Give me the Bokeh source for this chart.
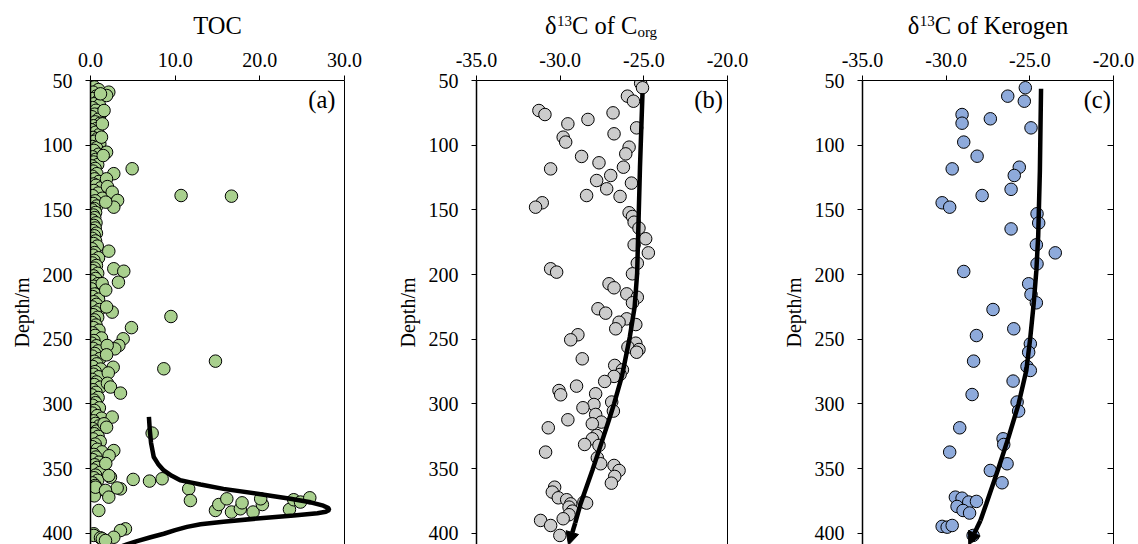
from bokeh.plotting import figure
from bokeh.layouts import row, column
from bokeh.models import (Range1d, LinearAxis, FixedTicker, NumeralTickFormatter,
                          Label, Arrow, NormalHead)
from bokeh.core.properties import value
from bokeh.embed import file_html
from bokeh.resources import INLINE

FONT = "Liberation Serif"
TICK_PX = "20px"
TITLE_PX = "24.5px"
SMALL_PX = "15px"

# ---------------- data ----------------
depth_ticks = [50, 100, 150, 200, 250, 300, 350, 400]
toc_ticks = [0, 10, 20, 30]
d13c_ticks = [-35, -30, -25, -20]

# (a) TOC (wt%) vs depth (m)
toc_depth = [55, 57, 59, 61, 62, 64, 66, 68, 69, 71, 73, 75, 76, 78, 80, 82, 83, 85, 87, 88,
             90, 92, 94, 95, 97, 99, 101, 102, 104, 107, 109, 111, 113, 115, 116, 118, 120, 122,
             124, 126, 128, 130, 131, 133, 135, 137, 139, 141, 143, 145, 147, 149, 150, 152, 154,
             156, 158, 160, 162, 164, 166, 168, 170, 172, 174, 176, 178, 180, 183, 185, 187, 189,
             191, 193, 195, 197, 199, 201, 203, 205, 207, 209, 211, 213, 215, 217, 219, 221, 223,
             225, 227, 229, 231, 233, 235, 237, 239, 241, 243, 245, 247, 249, 251, 253, 255, 257,
             259, 261, 263, 265, 267, 269, 271, 273, 275, 277, 279, 281, 283, 285, 287, 289, 291,
             293, 295, 297, 299, 301, 303, 305, 307, 309, 311, 313, 315, 317, 319, 321, 323, 325,
             327, 329, 331, 333, 335, 337, 339, 341, 343, 345, 347, 349, 351, 353, 355, 357, 359,
             361, 363, 365, 368, 371,
             59, 61.6, 60.3, 73.2, 83.5, 93.8, 106, 105.4, 108, 122, 126, 132, 136.3, 142.7, 147.9,
             144, 181.9, 195.5, 197.4, 205.9, 207, 212, 229, 225, 241, 249.6, 254.8, 257.4, 254.8,
             262, 271.6, 276, 284, 286.9, 291.6, 310.1, 315.3, 318, 336, 340, 346, 356.6, 355.3,
             364.3, 365.6, 364.9, 366.8, 372, 382.3, 396.5, 397.8, 400.3, 401.6, 403, 403.4, 404.2,
             405.5,
             118.2, 138.9, 139.4, 232.4, 266.9, 272.8, 322.5, 358.3, 359.6, 357.8, 365.6, 374.6,
             382.3, 377.7, 373.3, 383.5, 381, 376.4, 383.5, 377.7, 373.3, 381.5, 374, 375.8, 372.5]
toc_value = [0.45, 0.95, 0.30, 1.25, 0.70, 0.20, 0.85, 0.40, 1.05, 0.25, 0.65, 1.30, 0.50, 0.15,
             0.90, 0.55, 1.15, 0.35, 0.75, 0.05, 0.60, 1.00, 0.30, 0.80, 0.45, 1.10, 0.20, 0.70,
             0.40, 0.95, 0.25, 0.60, 0.35, 0.85, 0.15, 0.55, 0.30, 0.75, 0.20, 0.50, 1.00, 0.35,
             0.65, 1.20, 0.40, 0.90, 0.25, 1.40, 0.55, 0.30, 0.75, 0.45, 0.20, 0.60, 0.35, 0.50,
             0.25, 0.65, 0.40, 0.55, 0.30, 0.70, 0.45, 0.20, 0.60, 0.35, 0.80, 0.15, 0.50, 0.30,
             0.95, 0.40, 0.20, 0.70, 0.45, 0.25, 0.85, 0.35, 0.60, 0.15, 0.90, 0.40, 0.10, 1.20,
             0.50, 0.25, 0.95, 0.40, 0.70, 0.20, 1.05, 0.55, 0.30, 0.85, 0.45, 0.20, 0.65, 0.35,
             1.00, 0.25, 0.55, 1.30, 0.40, 0.15, 0.70, 0.30, 0.90, 0.50, 0.20, 1.10, 0.45, 0.75,
             0.25, 1.20, 0.55, 0.35, 0.95, 0.20, 0.70, 0.45, 1.15, 0.30, 0.65, 0.15, 0.90, 0.40,
             0.60, 0.25, 1.05, 0.45, 0.20, 0.80, 1.30, 0.35, 0.60, 1.00, 0.25, 0.70, 0.45, 0.90,
             0.30, 1.15, 0.55, 0.20, 0.80, 1.35, 0.40, 0.65, 0.25, 1.00, 0.50, 0.80, 0.35, 1.10,
             0.60, 0.40, 0.85, 0.25, 0.55, 0.15, 0.70, 0.45,
             2.16, 1.90, 1.18, 1.60, 1.40, 1.30, 1.77, 1.90, 1.50, 2.75, 1.89, 2.00, 2.56, 3.20,
             2.75, 1.80, 2.16, 2.75, 3.93, 3.30, 1.38, 1.80, 2.56, 1.90, 4.84, 3.86, 3.35, 2.87,
             1.97, 1.90, 2.68, 2.10, 2.00, 2.36, 3.54, 2.56, 1.60, 1.90, 2.75, 2.20, 1.80, 2.36,
             2.16, 0.59, 3.54, 3.15, 1.77, 2.16, 0.98, 4.13, 3.54, 0.39, 0.39, 2.75, 1.18, 1.40,
             1.77,
             4.92, 10.7, 16.65, 9.5, 14.76, 8.66, 7.28, 5.04, 6.97, 8.46, 11.6, 11.8,
             14.76, 15.15, 16.1, 16.65, 17.7, 17.9, 19.2, 20.3, 20.1, 23.5, 24.0, 24.8, 25.9]

toc_curve_value = [6.9, 7.0, 7.15, 7.47, 8.0, 8.66, 9.6, 10.6, 11.8, 13.0, 15.7, 19.7, 23.6, 26.0,
                   27.5, 28.1, 28.2, 27.8, 26.8, 24.0, 19.7, 15.7, 13.0, 11.4, 10.0, 8.66, 7.1,
                   5.5, 4.3, 3.0]
toc_curve_depth = [310, 320, 330, 341, 346.5, 351.4, 355.5, 359, 360.6, 362.2, 365.6, 369.4, 373.3,
                   376.0, 378.6, 380.5, 382.0, 383.3, 384.4, 386.2, 388.5, 391.0, 393.0, 395.0,
                   397.5, 400.3, 403.0, 406.0, 408.6, 411.5]

# (b) d13C of Corg (permil) vs depth
corg_depth = [52.1, 55.6, 62.1, 66, 73.2, 76.3, 75, 80.1, 83.5, 86.6, 91.2, 93.8, 97.6, 101.5,
              106.7, 108.7, 113.6, 117, 118.3, 123.4, 129.3, 127.3, 133.7, 138.9, 139.6, 144.5,
              147.9, 152.2, 155.1, 159.5, 164.1, 172.3, 177, 183.2, 191.2, 195.5, 198.1, 199.4,
              207.1, 210.2, 214.9, 217.5, 221.8, 226.4, 229.8, 234.2, 236.8, 238.6, 241.9, 246.5,
              250.4, 253, 256, 257.9, 260, 265.1, 270.2, 273.6, 277.2, 278.7, 282.6, 286.2, 289.6,
              292.9, 292.1, 300.4, 298.5, 305.5, 302.9, 308.1, 314, 315.3, 312.2, 318.4, 324.3,
              326.9, 332, 331.3, 337.2, 341.6, 346.2, 347.5, 351.4, 356, 361.2, 364.3, 368.1,
              372.5, 374, 377.2, 375.8, 376.6, 379.7, 382.8, 385.6, 388.7, 390, 393.9, 401.6]
corg_value = [-25.19, -25.08, -25.98, -25.62, -31.27, -30.91, -26.84, -28.34, -29.54, -25.43,
              -26.78, -29.82, -29.67, -25.88, -26.08, -28.72, -27.68, -26.22, -30.57, -26.98,
              -25.74, -27.82, -27.22, -28.42, -26.42, -31.07, -31.47, -25.88, -25.68, -25.58,
              -25.29, -24.89, -25.58, -24.73, -25.39, -30.57, -30.21, -25.68,
              -27.08, -26.78, -26.02, -25.39, -25.68, -27.74, -27.28, -26.02, -26.48, -25.48,
              -26.68, -28.94, -29.37, -25.48, -25.95, -25.29, -25.43, -28.68, -26.74, -26.28,
              -26.42, -26.78, -27.34, -29.02, -30.07, -29.97, -27.88, -27.98, -26.92, -26.82,
              -28.64, -27.88, -27.54, -28.08, -29.54, -30.71, -27.82, -28.08, -27.68, -28.54,
              -30.87, -27.78, -27.58, -26.78, -26.48, -26.74, -26.94, -30.33, -30.47, -30.11,
              -29.61, -29.37, -28.58, -28.42, -29.47, -29.27, -29.47, -29.82, -31.17, -30.57,
              -30.02]
corg_trend_value = [-25.08, -25.23, -25.40, -25.55, -25.84, -26.30, -26.78, -27.10, -27.42, -28.08,
                    -28.78, -29.10]
corg_trend_depth = [59.8, 117, 199, 225, 248.4, 278, 299.9, 313, 325.6, 351.4, 377.1, 392]

# (c) d13C of kerogen (permil) vs depth
ker_depth = [55.6, 62.1, 66, 76.3, 83, 79.6, 86.6, 97.6, 108.5, 118.3, 117, 123.4, 134.1, 138.9,
             144.5, 147.9, 153, 160.1, 164.7, 177, 183.2, 191.7, 197.6, 207.1, 215.3, 221.8, 227,
             241.9, 247.1, 253.5, 260, 266.9, 271, 274.1, 282.3, 292.7, 298.5, 305.5, 318.4, 326.9,
             331.3, 337.2, 346.2, 351.4, 360.9, 372, 372.8, 375.8, 375.3, 379.2, 382.3, 384.3,
             394.6, 395.2, 393.9, 401.6]
ker_value = [-25.27, -26.32, -25.33, -29.05, -29.05, -27.36, -24.93, -28.95, -28.15, -29.64,
             -25.63, -25.93, -26.12, -27.85, -30.24, -29.79, -24.57, -24.47, -26.12, -24.61,
             -23.48, -24.57, -28.95, -25.07, -24.93, -24.61, -27.2, -25.96, -28.19, -24.97,
             -25.07, -28.36, -25.17, -24.97, -26.0, -28.45, -25.76, -25.67, -29.19, -26.6,
             -26.56, -29.79, -26.36, -27.36, -26.66, -29.45, -29.05, -28.65, -28.19, -29.35,
             -28.99, -28.6, -30.24, -29.94, -29.64, -28.39]
ker_trend_value = [-24.33, -24.40, -24.50, -24.61, -24.77, -24.97, -25.21, -25.67, -26.27, -26.92,
                   -27.60, -27.95]
ker_trend_depth = [56.4, 120, 170, 196.8, 222.6, 248.4, 274.1, 299.9, 325.6, 351.4, 377.1, 390]

# ---------------- layout ----------------
STRIP_H = 44
PANEL_H = 500
D_TOP, D_BOTTOM = 50, 408.6
MAIN_Y, SUP_Y, SUB_Y = 18.8, 23.4, 12.3   # vertical middles of the title pieces
TAG_Y = 64.5


def strip(width, bl, br, xr):
    s = figure(width=width, height=STRIP_H, x_range=xr, y_range=Range1d(0, STRIP_H),
               x_axis_type=None, y_axis_type=None, output_backend="svg",
               toolbar_location=None, min_border_left=bl, min_border_right=br,
               min_border_top=0, min_border_bottom=0)
    s.outline_line_color = None
    s.grid.visible = False
    return s


def piece(s, x, y, text, size, align="left", dx=0):
    s.text(x=[x], y=[y], text=[text], text_font=value(FONT), text_font_size=value(size),
           text_align=align, text_baseline="middle", text_color="black", x_offset=dx)


def panel(width, bl, br, xr, xticks, right_ticks):
    p = figure(width=width, height=PANEL_H, x_range=xr,
               y_range=Range1d(D_BOTTOM, D_TOP), x_axis_location="above",
               output_backend="svg", toolbar_location=None,
               min_border_left=bl, min_border_right=br, min_border_top=36,
               min_border_bottom=0)
    p.outline_line_color = None
    p.xgrid.visible = False
    p.ygrid.visible = False
    xa = p.above[0]
    xa.ticker = FixedTicker(ticks=xticks)
    xa.formatter = NumeralTickFormatter(format="0.0")
    ya = p.left[0]
    ya.ticker = FixedTicker(ticks=depth_ticks)
    ya.axis_label = "Depth/m"
    ya.axis_label_text_font = FONT
    ya.axis_label_text_font_size = TICK_PX
    ya.axis_label_text_font_style = "normal"
    ya.axis_label_text_color = "black"
    ya.axis_label_standoff = 7
    for ax, lw, st in ((xa, 1, 9), (ya, 1.5, 13)):
        ax.axis_line_color = "black"
        ax.axis_line_width = lw
        ax.major_tick_line_color = "black"
        ax.major_tick_out = 5
        ax.major_tick_in = 0
        ax.minor_tick_line_color = None
        ax.major_label_text_font = FONT
        ax.major_label_text_font_size = TICK_PX
        ax.major_label_text_color = "black"
        ax.major_label_standoff = st
    ra = LinearAxis(ticker=FixedTicker(ticks=right_ticks),
                    major_label_overrides={t: "" for t in right_ticks},
                    axis_line_color="black", axis_line_width=1,
                    major_tick_line_color="black", major_tick_in=6, major_tick_out=0,
                    minor_tick_line_color=None, major_label_standoff=0)
    p.add_layout(ra, "right")
    return p


def tag(p, x, text):
    p.add_layout(Label(x=x, y=TAG_Y, text=text, text_font=FONT, text_font_size=TITLE_PX,
                       text_align="right", text_baseline="middle", text_color="black"))


# (a)
xr_a = Range1d(0, 30)
sa = strip(390, 90, 46, xr_a)
piece(sa, 15, MAIN_Y, "TOC", TITLE_PX, "center")
pa = panel(390, 90, 46, xr_a, toc_ticks, [])
pa.scatter(toc_value, toc_depth, size=12.5, fill_color="#A9D08E", line_color="black",
           line_width=1)
pa.line(toc_curve_value, toc_curve_depth, line_color="black", line_width=4.5)
tag(pa, 28.93, "(a)")

# (b)
xr_b = Range1d(-35, -20)
sb = strip(380, 86, 43, xr_b)
piece(sb, -27.5, MAIN_Y, "\u03b4", TITLE_PX, dx=-57)
piece(sb, -27.5, SUP_Y, "13", SMALL_PX, dx=-44.9)
piece(sb, -27.5, MAIN_Y, "C of C", TITLE_PX, dx=-29.9)
piece(sb, -27.5, SUB_Y, "org", SMALL_PX, dx=35.4)
pb = panel(380, 86, 43, xr_b, d13c_ticks, [])
pb.scatter(corg_value, corg_depth, size=12.5, fill_color="#CCCCCC", line_color="black",
           line_width=1)
pb.line(corg_trend_value, corg_trend_depth, line_color="black", line_width=4.5)
pb.add_layout(Arrow(x_start=corg_trend_value[-1], y_start=corg_trend_depth[-1],
                    x_end=-29.5, y_end=409.0, line_width=4.5, line_color="black",
                    end=NormalHead(size=13, fill_color="black", line_color="black")))
tag(pb, -20.28, "(b)")

# (c)
xr_c = Range1d(-35, -20)
sc = strip(368, 92, 25, xr_c)
piece(sc, -27.5, MAIN_Y, "\u03b4", TITLE_PX, dx=-80.3)
piece(sc, -27.5, SUP_Y, "13", SMALL_PX, dx=-68.2)
piece(sc, -27.5, MAIN_Y, "C of Kerogen", TITLE_PX, dx=-53.2)
pc = panel(368, 92, 25, xr_c, d13c_ticks, [100, 150, 200, 250, 300, 350, 400])
pc.scatter(ker_value, ker_depth, size=12.5, fill_color="#8EAADB", line_color="black",
           line_width=1)
pc.line(ker_trend_value, ker_trend_depth, line_color="black", line_width=4.5)
pc.add_layout(Arrow(x_start=ker_trend_value[-1], y_start=ker_trend_depth[-1],
                    x_end=-28.65, y_end=409.0, line_width=4.5, line_color="black",
                    end=NormalHead(size=13, fill_color="black", line_color="black")))
tag(pc, -20.16, "(c)")

layout = row(column(sa, pa), column(sb, pb), column(sc, pc))
open("out.html", "w").write(file_html(layout, INLINE))
